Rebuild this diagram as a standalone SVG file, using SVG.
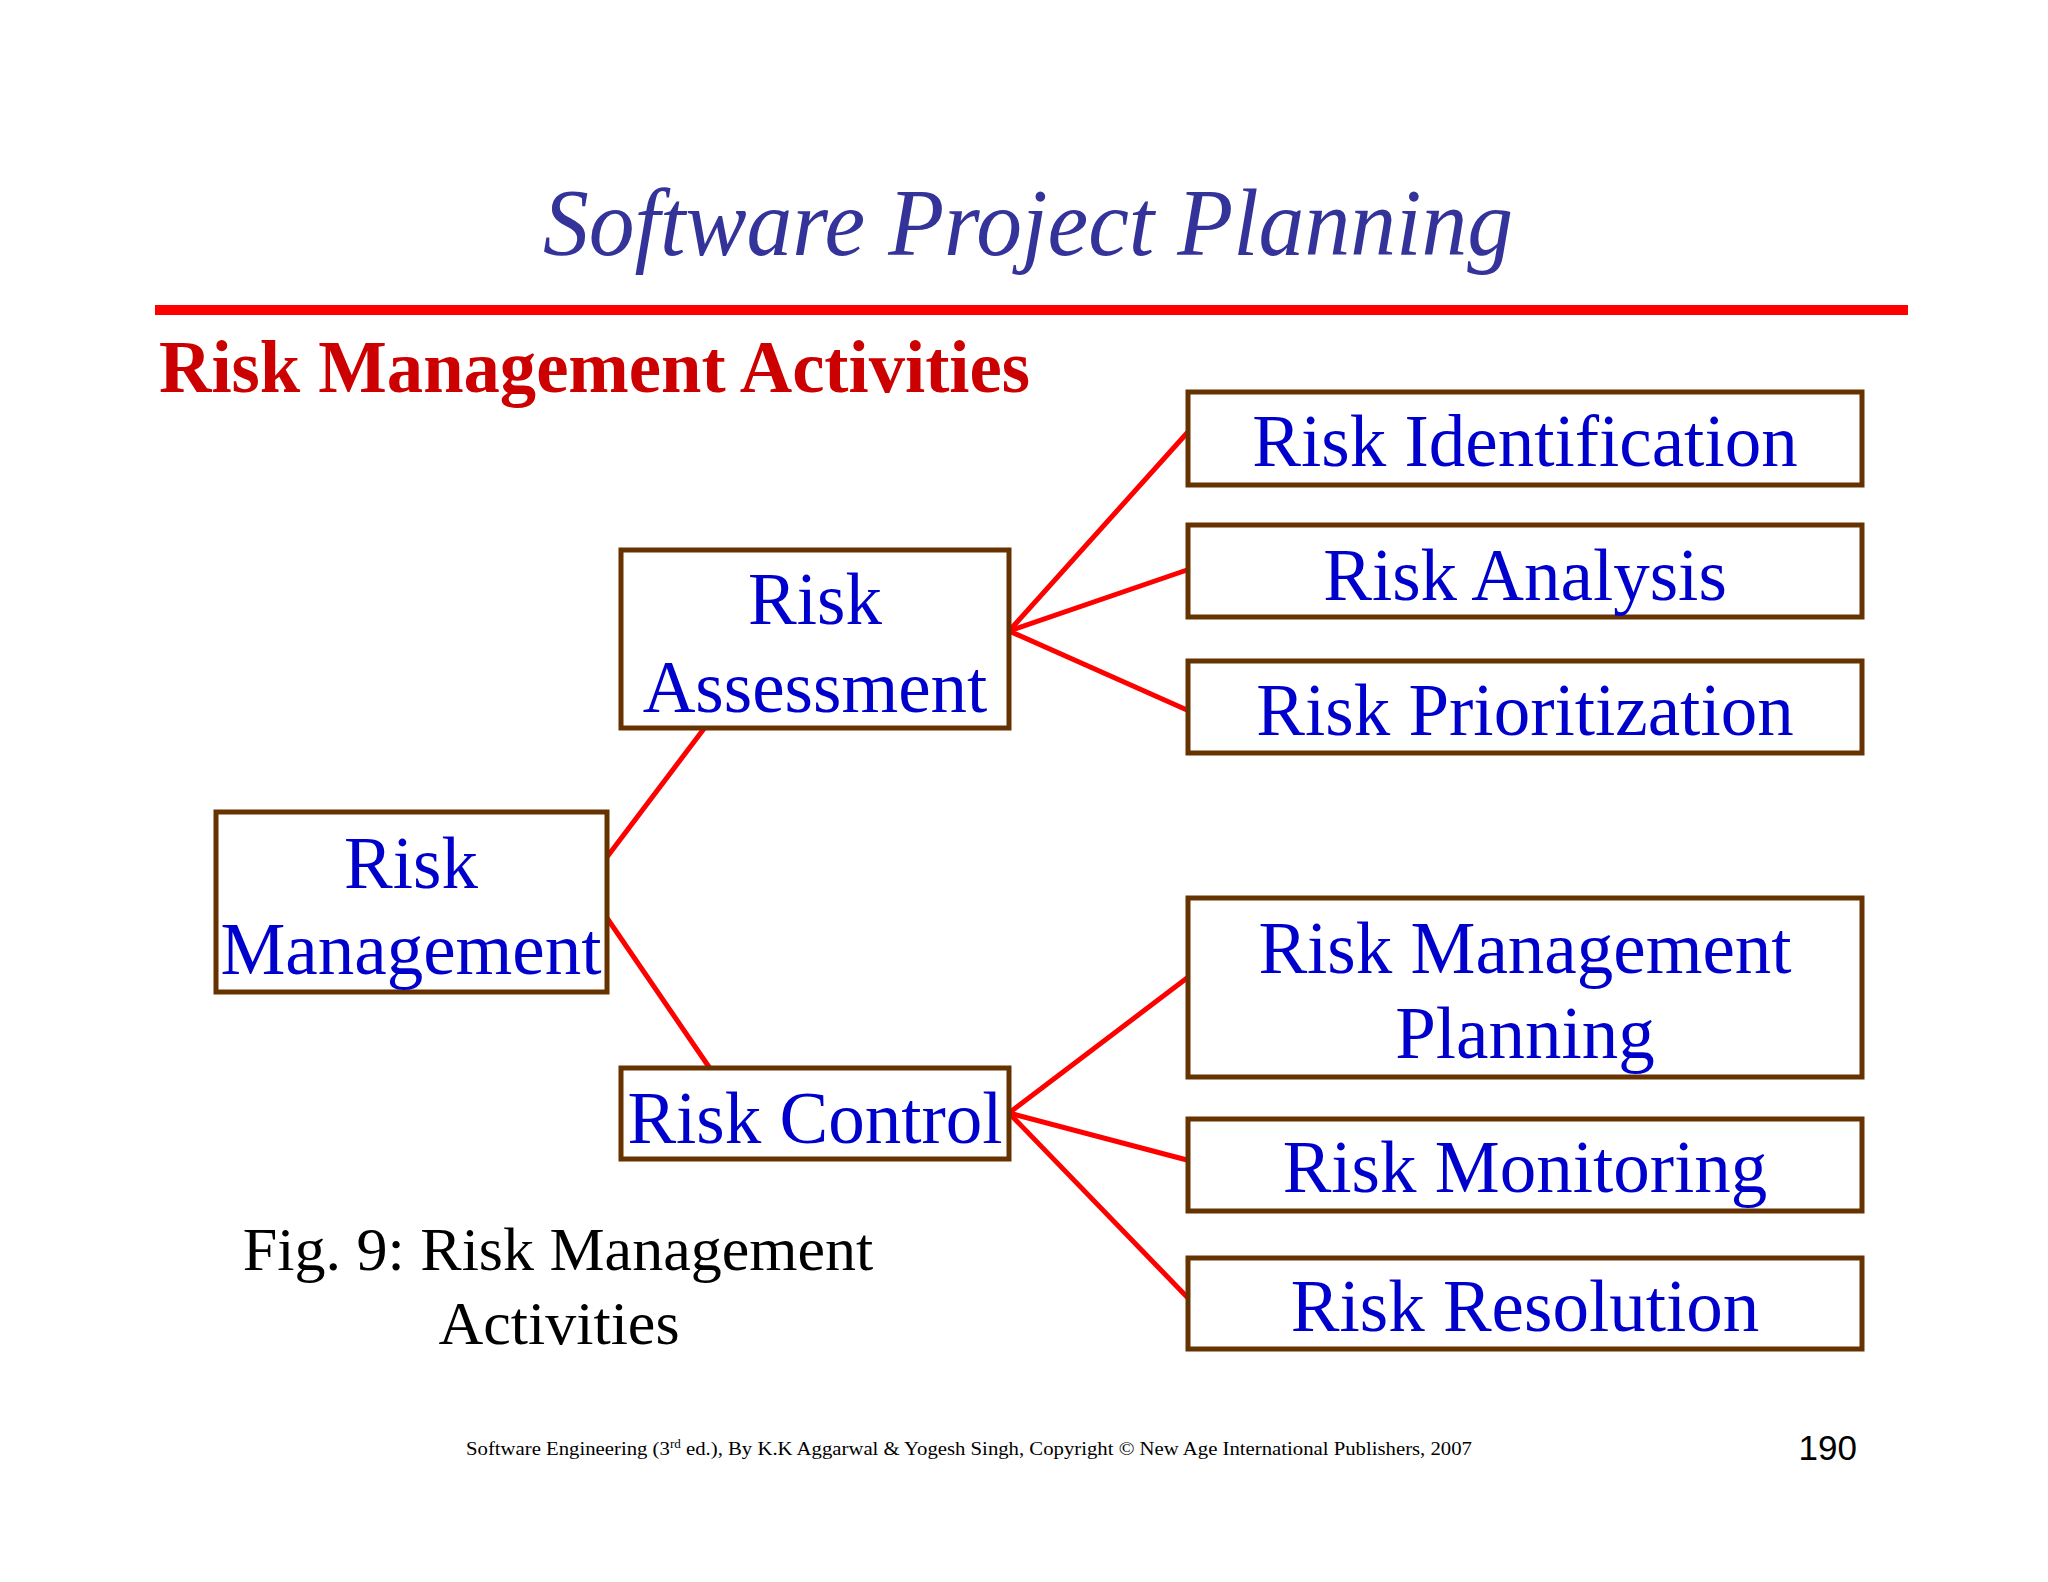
<svg xmlns="http://www.w3.org/2000/svg" width="2048" height="1582" viewBox="0 0 2048 1582">
<style>
.box{fill:#ffffff;stroke:#663300;stroke-width:5}
.lbl{font-family:"Liberation Serif","Times New Roman",serif;font-size:73px;fill:#0000cc;text-anchor:middle}
.conn{stroke:#ff0000;stroke-width:5;fill:none;stroke-linecap:round}
</style>
<rect x="0" y="0" width="2048" height="1582" fill="#ffffff"/>
<text x="1028" y="255" font-family="Liberation Serif, serif" font-style="italic" font-size="96" fill="#333399" text-anchor="middle" textLength="970" lengthAdjust="spacingAndGlyphs">Software Project Planning</text>
<rect x="155" y="305" width="1753" height="10" fill="#ff0000"/>
<text x="159" y="392" font-family="Liberation Serif, serif" font-weight="bold" font-size="74" fill="#cc0000" textLength="871" lengthAdjust="spacingAndGlyphs">Risk Management Activities</text>
<g id="connectors">
<line class="conn" x1="1009" y1="631" x2="1187" y2="433"/>
<line class="conn" x1="1009" y1="631" x2="1187" y2="570"/>
<line class="conn" x1="1009" y1="631" x2="1187" y2="710"/>
<line class="conn" x1="607" y1="857" x2="709" y2="722"/>
<line class="conn" x1="607" y1="918" x2="709" y2="1067"/>
<line class="conn" x1="1009" y1="1113" x2="1187" y2="978"/>
<line class="conn" x1="1009" y1="1113" x2="1187" y2="1160"/>
<line class="conn" x1="1009" y1="1113" x2="1187" y2="1297"/>
</g>
<g id="risk-management">
<rect class="box" x="216" y="812" width="391" height="180"/>
<text class="lbl" x="411" y="888">Risk</text>
<text class="lbl" x="411" y="974">Management</text>
</g>
<g id="risk-assessment">
<rect class="box" x="621" y="550" width="388" height="178"/>
<text class="lbl" x="815" y="624">Risk</text>
<text class="lbl" x="815" y="712">Assessment</text>
</g>
<g id="risk-control">
<rect class="box" x="621" y="1068" width="388" height="91"/>
<text class="lbl" x="815" y="1143">Risk Control</text>
</g>
<g id="risk-identification">
<rect class="box" x="1188" y="392" width="674" height="93"/>
<text class="lbl" x="1525" y="466">Risk Identification</text>
</g>
<g id="risk-analysis">
<rect class="box" x="1188" y="525" width="674" height="92"/>
<text class="lbl" x="1525" y="600">Risk Analysis</text>
</g>
<g id="risk-prioritization">
<rect class="box" x="1188" y="661" width="674" height="92"/>
<text class="lbl" x="1525" y="735">Risk Prioritization</text>
</g>
<g id="risk-management-planning">
<rect class="box" x="1188" y="898" width="674" height="179"/>
<text class="lbl" x="1525" y="973">Risk Management</text>
<text class="lbl" x="1525" y="1058">Planning</text>
</g>
<g id="risk-monitoring">
<rect class="box" x="1188" y="1119" width="674" height="92"/>
<text class="lbl" x="1525" y="1192">Risk Monitoring</text>
</g>
<g id="risk-resolution">
<rect class="box" x="1188" y="1258" width="674" height="91"/>
<text class="lbl" x="1525" y="1331">Risk Resolution</text>
</g>
<g id="caption" font-family="Liberation Serif, serif" font-size="62" fill="#000000" text-anchor="middle">
<text x="558" y="1270">Fig. 9: Risk Management</text>
<text x="559" y="1344">Activities</text>
</g>
<text x="466" y="1455" font-family="Liberation Serif, serif" font-size="19" fill="#000000" textLength="1006" lengthAdjust="spacingAndGlyphs">Software Engineering (3<tspan font-size="12" dy="-7">rd</tspan><tspan dy="7"> ed.), By K.K Aggarwal &amp; Yogesh Singh, Copyright © New Age International Publishers, 2007</tspan></text>
<text x="1857" y="1460" font-family="Liberation Sans, Arial, sans-serif" font-size="35" fill="#000000" text-anchor="end">190</text>
</svg>
